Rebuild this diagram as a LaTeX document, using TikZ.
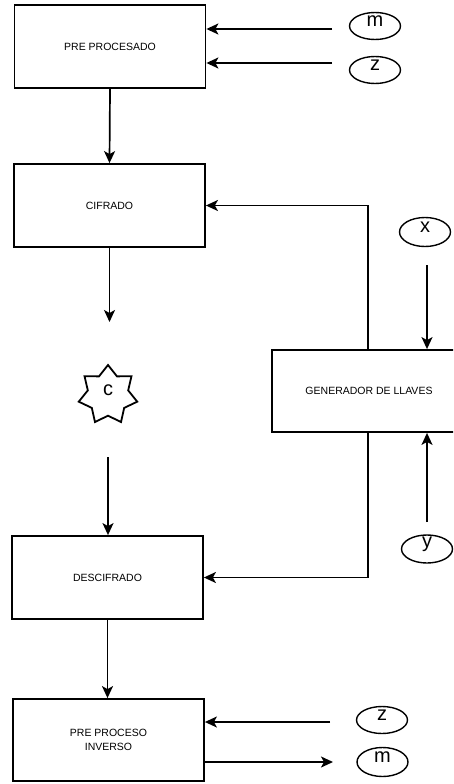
\documentclass[tikz,border=0pt]{standalone}
\usepackage{fontspec}
\setmainfont{Liberation Sans}
\usetikzlibrary{arrows.meta,shapes.geometric}
\newcommand{\portfont}{\fontsize{20}{24}\selectfont}
\newcommand{\blockfont}{\fontsize{10.5}{14}\selectfont}

\begin{document}
\begin{tikzpicture}[
  x=1pt,
  y=-1pt,
  every node/.style={text=black},
  block/.style={draw, line width=1.8pt, rectangle, minimum width=191pt,
    minimum height=83pt, inner sep=0pt, font=\blockfont, align=center},
  port/.style={draw, line width=1.4pt, ellipse, minimum width=51pt,
    minimum height=27pt, inner sep=0pt,
    label={[font=\portfont, inner sep=0pt, yshift=5pt]center:#1}},
  burst/.style={draw, line width=1.8pt, star, star points=7,
    star point ratio=1.45, minimum size=60pt, inner sep=0pt,
    label={[font=\portfont, inner sep=0pt, yshift=5pt]center:#1}},
  flow/.style={line width=1.7pt, -{Stealth[length=12pt, width=11pt, inset=3pt]}}
]
  % ---- page frame (the key block runs off the right edge) -------------
  \useasboundingbox (0,0) rectangle (453,784);
  \clip (0,0) rectangle (453,784);

  % ---- the processing blocks -------------------------------------------
  \node[block] (pre) at (110,46.5) {PRE PROCESADO};
  \node[block] (cif) at (109.5,205.5) {CIFRADO};
  \node[block, minimum width=194pt, minimum height=82pt] (gen) at (369,391)
    {GENERADOR DE LLAVES};
  \node[block] (des) at (107.5,577.5) {DESCIFRADO};
  \node[block, minimum height=82pt] (inv) at (108.5,740)
    {PRE PROCESO\\INVERSO};

  % ---- the cipher text -------------------------------------------------
  \node[burst=c] (ctx) at (108,395) {};

  % ---- inputs and outputs ----------------------------------------------
  \node[port=m] (mA) at (375,26) {};
  \node[port=z] (zA) at (375,70) {};
  \node[port=x, minimum height=29pt] (xk) at (425,232) {};
  \node[port=y, minimum height=28pt] (yk) at (427,549) {};
  \node[port=z] (zB) at (382,720) {};
  \node[port=m, minimum height=29pt] (mB) at (382.5,762) {};

  % free ends of the connectors
  \coordinate (mIn) at (332,29);
  \coordinate (zIn) at (332,63);
  \coordinate (cOut) at (109,322);
  \coordinate (cIn) at (108,457);
  \coordinate (xIn) at (427,265);
  \coordinate (yIn) at (427,522);
  \coordinate (zBack) at (330,722);
  \coordinate (mOut) at (333,762);

  % ---- main chain ------------------------------------------------------
  \draw[flow] (mIn) -- (mIn -| pre.east);
  \draw[flow] (zIn) -- (zIn -| pre.east);
  \draw[flow] (pre.south) -- (cif.north);
  \draw[flow] (cif.south) -- (cif.south |- cOut);
  \draw[flow] (cIn) -- (cIn |- des.north);
  \draw[flow] (des.south) -- (des.south |- inv.north);
  \draw[flow] (zBack) -- (zBack -| inv.east);
  \draw[flow] (inv.east |- mOut) -- (mOut);

  % ---- key generator ---------------------------------------------------
  \draw[flow] ([xshift=-1pt]gen.north) |- (cif.east);
  \draw[flow] ([xshift=-1pt]gen.south) |- (des.east);
  \draw[flow] (xIn) -- (xIn |- gen.north);
  \draw[flow] (yIn) -- (yIn |- gen.south);
\end{tikzpicture}
\end{document}
